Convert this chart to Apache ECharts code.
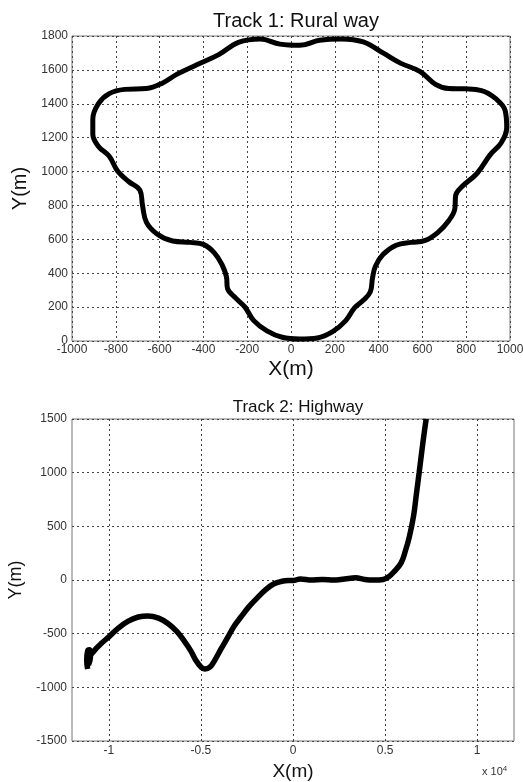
<!DOCTYPE html>
<html>
<head>
<meta charset="utf-8">
<script src="https://cdn.jsdelivr.net/npm/echarts@6/dist/echarts.min.js"></script>
<style>
  html, body { margin: 0; padding: 0; background: #fff; }
  #chart { width: 523px; height: 782px; }
</style>
</head>
<body>
<div id="chart"></div>
<script>
// track 1 (rural way), closed loop, metres
const ruralX = [40, 120, 190, 250, 290, 330, 362, 372, 385, 420, 480, 550, 610, 670, 720, 748, 752, 780, 850, 910, 960, 985,
  978, 935, 870, 790, 720, 660, 590, 500, 420, 330, 230, 130, 40, -50, -140, -240, -330, -430, -520, -590, -660, -760, -830,
  -880, -905, -905, -880, -830, -790, -740, -690, -678, -660, -610, -540, -460, -400, -350, -315, -295, -290, -250, -210,
  -170, -110, -40, 40];
const ruralY = [12, 18, 55, 120, 195, 240, 290, 370, 440, 510, 565, 582, 592, 640, 710, 780, 860, 910, 990, 1100, 1170, 1260,
  1360, 1430, 1478, 1488, 1490, 1515, 1590, 1640, 1700, 1765, 1783, 1775, 1745, 1752, 1782, 1762, 1690, 1630, 1575, 1520, 1490,
  1485, 1460, 1400, 1310, 1220, 1150, 1090, 1000, 940, 890, 800, 700, 630, 590, 582, 570, 520, 450, 380, 310, 250, 200,
  120, 60, 22, 12];

// track 2 (highway), metres
const highwayX = [-11150, -11200, -11150, -11050, -11000, -11100, -11050, -10800, -10400, -10000, -9500, -8970, -8400, -7880,
  -7300, -6790, -6300, -5920, -5550, -5270, -5000, -4780, -4500, -4290, -3900, -3530, -3200, -2830, -2400, -1900, -1450, -1030,
  -600, -270, 0, 400, 1000, 1600, 2200, 2800, 3400, 3900, 4400, 4900, 5200, 5500, 5870, 6100, 6320, 6550, 6700, 6850, 6980,
  7100, 7230];
const highwayY = [-830, -750, -660, -650, -720, -790, -720, -660, -590, -530, -450, -385, -345, -335, -355, -405, -480, -565,
  -660, -750, -810, -830, -810, -760, -640, -530, -430, -345, -250, -160, -85, -35, -12, -5, -5, 10, 0, 5, 0, 10, 20, 5, 0,
  5, 30, 80, 160, 270, 405, 600, 800, 1000, 1180, 1340, 1500];

const xTicks2 = [-10000, -5000, 0, 5000, 10000];

const toPairs = (xs, ys) => xs.map((x, i) => [x, ys[i]]);

const chart = echarts.init(document.getElementById('chart'), null, { renderer: 'canvas' });

const font = '"Liberation Sans", Arial, sans-serif';
const gridLine = { show: true, lineStyle: { color: '#444', type: [2, 3], width: 1 } };
const label = { color: '#333', fontSize: 12, fontFamily: font, formatter: v => String(v) };

chart.setOption({
  animation: false,
  textStyle: { fontFamily: font },
  title: [
    { text: 'Track 1: Rural way', left: 291, top: 6, textAlign: 'center',
      textStyle: { fontSize: 20, fontWeight: 'normal', color: '#111', fontFamily: font } },
    { text: 'Track 2: Highway', left: 293, top: 394, textAlign: 'center',
      textStyle: { fontSize: 17, fontWeight: 'normal', color: '#111', fontFamily: font } }
  ],
  grid: [
    { left: 72, right: 13, top: 36, height: 305, show: true, borderColor: '#777', borderWidth: 1,
      containLabel: false, outerBoundsMode: 'none' },
    { left: 72, right: 9, top: 419, height: 322, show: true, borderColor: '#777', borderWidth: 1,
      containLabel: false, outerBoundsMode: 'none' }
  ],
  xAxis: [
    {
      type: 'value', gridIndex: 0, min: -1000, max: 1000, interval: 200,
      name: 'X(m)', nameLocation: 'middle', nameGap: 18,
      nameTextStyle: { fontSize: 21, color: '#111', fontFamily: font, verticalAlign: 'top' },
      axisLine: { show: false }, axisTick: { show: false },
      axisLabel: Object.assign({}, label, { margin: 3, showMinLabel: true, showMaxLabel: true }),
      splitLine: gridLine
    },
    {
      type: 'value', gridIndex: 1, min: -12000, max: 12000,
      name: 'X(m)', nameLocation: 'middle', nameGap: 21,
      nameTextStyle: { fontSize: 19, color: '#111', fontFamily: font, verticalAlign: 'top' },
      axisLine: { show: false },
      axisTick: { show: false, customValues: xTicks2 },
      axisLabel: Object.assign({}, label, { margin: 4, customValues: xTicks2, formatter: v => String(v / 10000) }),
      splitLine: gridLine
    }
  ],
  yAxis: [
    {
      type: 'value', gridIndex: 0, min: 0, max: 1800, interval: 200,
      name: 'Y(m)', nameLocation: 'middle', nameGap: 42, nameRotate: 90,
      nameTextStyle: { fontSize: 20, color: '#111', fontFamily: font },
      axisLine: { show: false }, axisTick: { show: false },
      axisLabel: Object.assign({}, label, { margin: 4, showMinLabel: true, showMaxLabel: true }),
      splitLine: gridLine
    },
    {
      type: 'value', gridIndex: 1, min: -1500, max: 1500, interval: 500,
      name: 'Y(m)', nameLocation: 'middle', nameGap: 40, nameRotate: 90,
      nameTextStyle: { fontSize: 18, color: '#111', fontFamily: font },
      axisLine: { show: false }, axisTick: { show: false },
      axisLabel: Object.assign({}, label, { margin: 5, showMinLabel: true, showMaxLabel: true }),
      splitLine: gridLine
    }
  ],
  graphic: [
    {
      type: 'text', left: 482, top: 765,
      style: {
        text: 'x 10{sup|4}', fill: '#333', font: '11px ' + font,
        rich: { sup: { fontSize: 8, verticalAlign: 'top', padding: [0, 0, 6, 0] } }
      }
    }
  ],
  series: [
    {
      type: 'line', xAxisIndex: 0, yAxisIndex: 0, data: toPairs(ruralX, ruralY),
      showSymbol: false, smooth: 0.4, lineStyle: { color: '#000', width: 5 }
    },
    {
      type: 'line', xAxisIndex: 1, yAxisIndex: 1, data: toPairs(highwayX, highwayY),
      showSymbol: false, smooth: 0.4, clip: true, lineStyle: { color: '#000', width: 5.5 }
    }
  ]
});
</script>
</body>
</html>
